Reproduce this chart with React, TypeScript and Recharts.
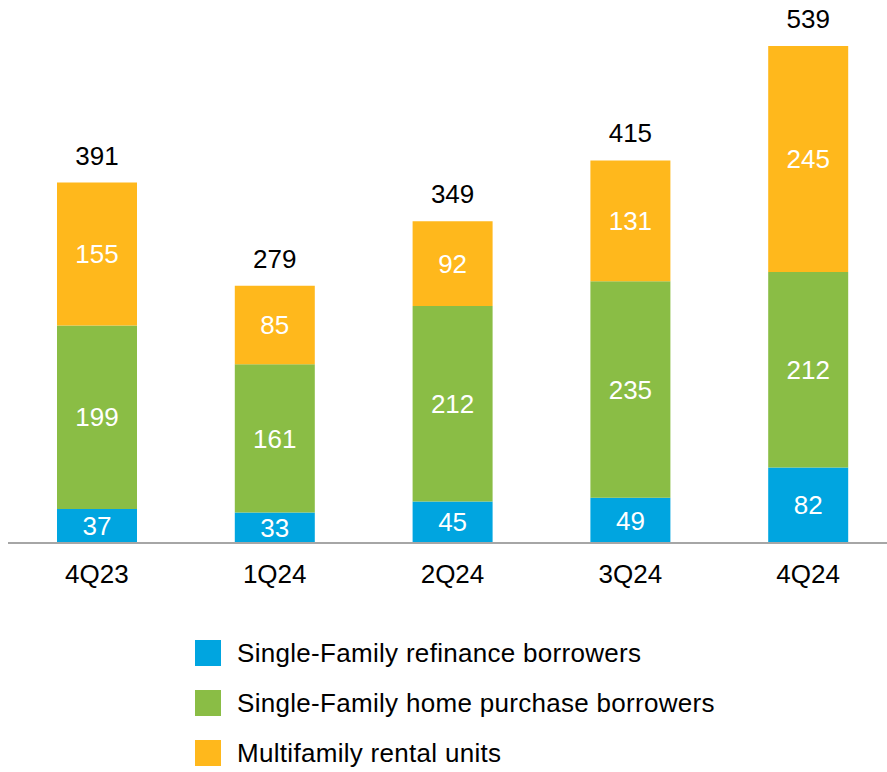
import { BarChart, Bar, XAxis, YAxis, LabelList, Legend } from 'recharts';

const quarters = ['4Q23', '1Q24', '2Q24', '3Q24', '4Q24'];
const refinance = [37, 33, 45, 49, 82];
const homePurchase = [199, 161, 212, 235, 212];
const multifamily = [155, 85, 92, 131, 245];
const totals = [391, 279, 349, 415, 539];

const series = [
  { key: 'refinance', name: 'Single-Family refinance borrowers', color: '#00A5E0' },
  { key: 'homePurchase', name: 'Single-Family home purchase borrowers', color: '#8ABD45' },
  { key: 'multifamily', name: 'Multifamily rental units', color: '#FFB81C' },
];

const chartData = quarters.map((quarter, i) => ({
  quarter,
  refinance: refinance[i],
  homePurchase: homePurchase[i],
  multifamily: multifamily[i],
  total: totals[i],
}));

const FONT = '"Liberation Sans", Arial, sans-serif';

function LegendBox() {
  return (
    <div style={{ fontFamily: FONT }}>
      {series.map(s => (
        <div key={s.key} style={{ display: 'flex', alignItems: 'center', height: 50 }}>
          <span style={{ width: 26, height: 26, background: s.color, display: 'inline-block' }} />
          <span style={{ marginLeft: 16, fontSize: 26, letterSpacing: 0.3, color: '#000' }}>{s.name}</span>
        </div>
      ))}
    </div>
  );
}

export default function App() {
  return (
    <div style={{ position: 'absolute', left: 0, top: 0, width: 887, height: 772, overflow: 'hidden', background: '#fff' }}>
      <BarChart
        width={897}
        height={772}
        data={chartData}
        margin={{ top: 26.7, right: 0, left: 8, bottom: 199 }}
        style={{ fontFamily: FONT }}
      >
        <XAxis
          dataKey="quarter"
          axisLine={{ stroke: '#A6A6A6', strokeWidth: 2 }}
          tickLine={false}
          tickSize={6}
          tickMargin={15.5}
          height={30}
          tick={{ fontSize: 26, fill: '#000' }}
        />
        <YAxis hide domain={[0, 560]} />
        <Legend
          layout="vertical"
          align="center"
          verticalAlign="middle"
          content={() => <LegendBox />}
          wrapperStyle={{ left: 195, top: 628, width: 660 }}
        />
        {series.map((s, idx) => (
          <Bar
            key={s.key}
            dataKey={s.key}
            name={s.name}
            stackId="a"
            fill={s.color}
            barSize={80}
            isAnimationActive={false}
          >
            <LabelList dataKey={s.key} position="center" fill="#fff" fontSize={26} />
            {idx === series.length - 1 && (
              <LabelList dataKey="total" position="top" offset={18} fill="#000" fontSize={26} />
            )}
          </Bar>
        ))}
      </BarChart>
    </div>
  );
}
